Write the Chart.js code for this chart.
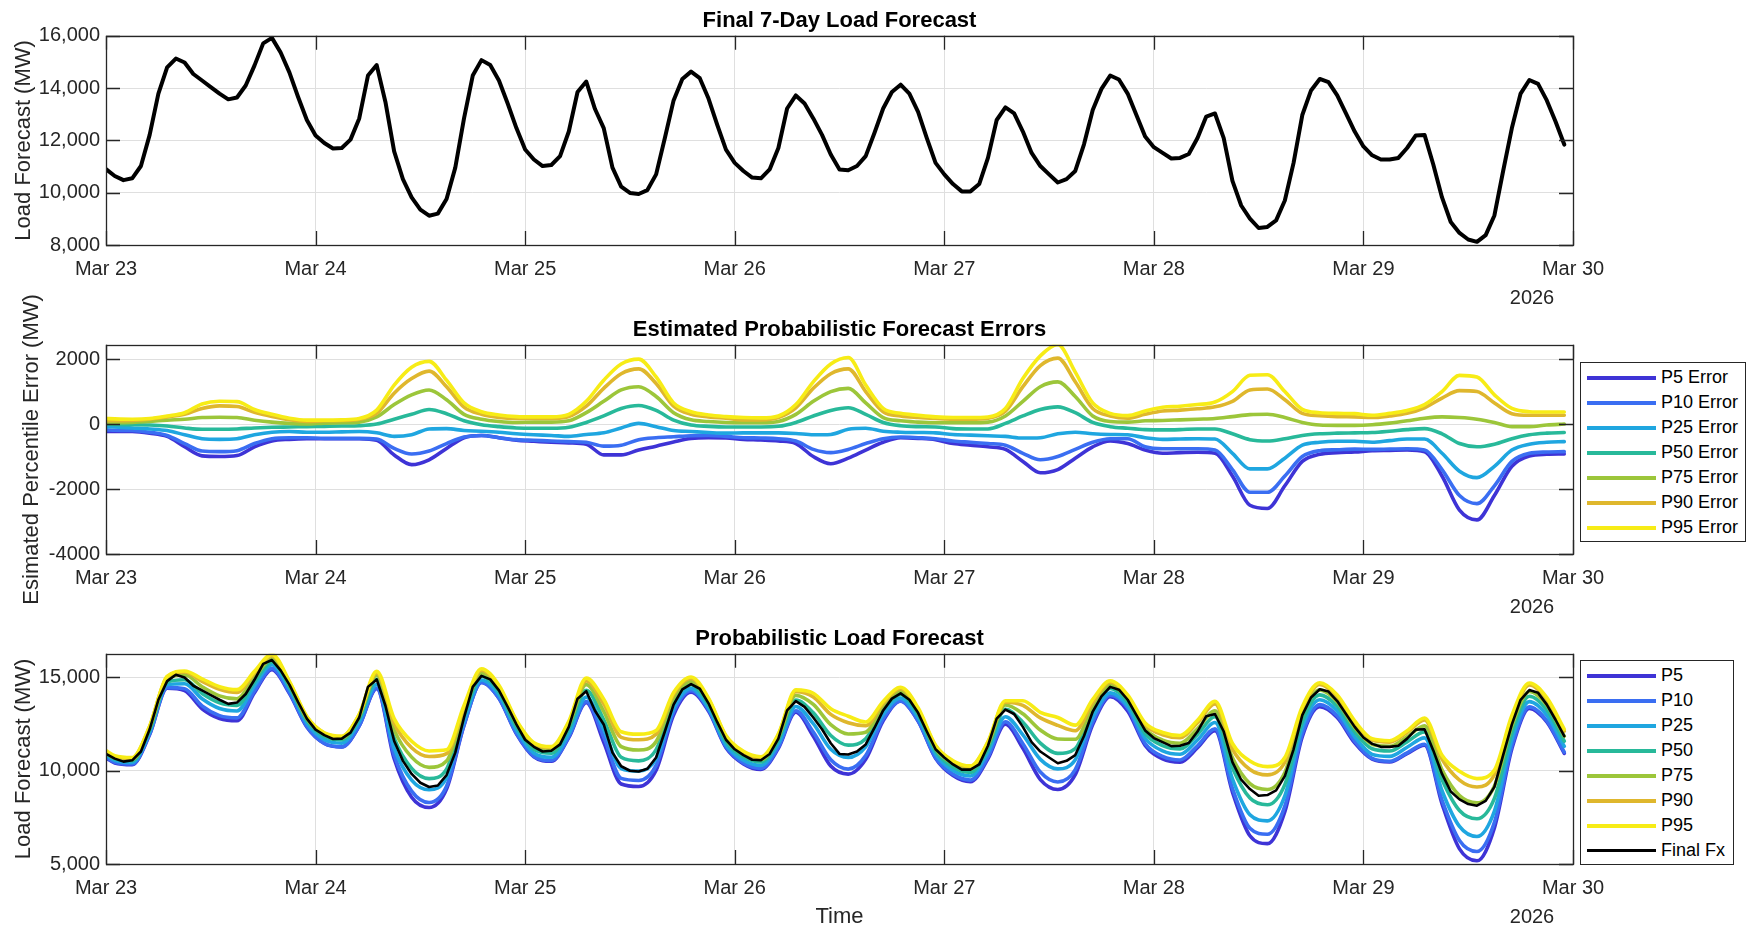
<!DOCTYPE html>
<html>
<head>
<meta charset="utf-8">
<title>Probabilistic Load Forecast</title>
<script src="https://cdn.jsdelivr.net/npm/chart.js@4.4.1/dist/chart.umd.min.js"></script>
<style>
  html, body { margin: 0; padding: 0; background: #fff; }
  #wrap { position: relative; width: 1755px; height: 926px; overflow: hidden; background: #fff; }
  #wrap canvas { position: absolute; left: 0; top: 0; }
  .legend { position: absolute; z-index: 5; background: #fff; border: 1px solid #262626; box-sizing: border-box;
            font-family: "Liberation Sans", Arial, Helvetica, sans-serif; font-size: 18px; color: #000; padding-top: 2px; }
  .legend .row { height: 25px; display: flex; align-items: center; white-space: nowrap; }
  .legend .swatch { display: inline-block; width: 69px; margin: 0 5px 0 6px; }
  #leg2 { left: 1580px; top: 362px; width: 166px; height: 180px; }
  #leg3 { left: 1580px; top: 660px; width: 154px; height: 205px; }
</style>
</head>
<body>
<div id="wrap">
  <canvas id="c1" width="1755" height="926"></canvas>
  <canvas id="c2" width="1755" height="926"></canvas>
  <canvas id="c3" width="1755" height="926"></canvas>
  <div class="legend" id="leg2"></div>
  <div class="legend" id="leg3"></div>
</div>
<script>
// x axis: hours since Mar 23 00:00
const dayTicks = [0, 24, 48, 72, 96, 120, 144, 168];
const dayLabels = ['Mar 23', 'Mar 24', 'Mar 25', 'Mar 26', 'Mar 27', 'Mar 28', 'Mar 29', 'Mar 30'];
const yearLabel = '2026';

// y ticks per panel
const loadTicks = [8000, 10000, 12000, 14000, 16000];
const errTicks = [-4000, -2000, 0, 2000];
const probTicks = [5000, 10000, 15000];

// final 7-day forecast, hourly (MW), hour 0 .. 167
const finalLoad = [
  10900, 10640, 10480, 10550, 11020, 12210, 13790, 14790, 15130, 14980, 14540, 14290, 14040, 13790, 13570, 13640, 14100, 14860, 15710, 15920, 15360, 14600, 13660, 12780,
  12190, 11900, 11690, 11710, 12030, 12840, 14480, 14880, 13470, 11580, 10520, 9820, 9350, 9120, 9200, 9760, 10960, 12840, 14480, 15070, 14880, 14290, 13410, 12470,
  11650, 11270, 11020, 11060, 11400, 12340, 13850, 14250, 13200, 12470, 10960, 10230, 9990, 9950, 10100, 10700, 12090, 13530, 14350, 14630, 14380, 13600, 12590, 11650,
  11140, 10830, 10580, 10550, 10890, 11710, 13220, 13720, 13410, 12840, 12210, 11460, 10890, 10860, 11020, 11400, 12280, 13220, 13850, 14130, 13790, 13090, 12090, 11140,
  10700, 10330, 10050, 10050, 10330, 11330, 12780, 13260, 13030, 12340, 11520, 11020, 10700, 10390, 10520, 10830, 11850, 13160, 13970, 14480, 14330, 13790, 12970, 12150,
  11740, 11520, 11310, 11330, 11480, 12090, 12910, 13030, 12090, 10450, 9510, 9010, 8650, 8690, 8940, 9700, 11140, 12970, 13910, 14350, 14230, 13720, 13030, 12340,
  11770, 11430, 11270, 11270, 11330, 11710, 12190, 12210, 11080, 9820, 8880, 8460, 8210, 8120, 8380, 9130, 10830, 12470, 13790, 14310, 14160, 13530, 12720, 11840
];

// percentile errors are read every 2 hours: hour 0, then 1, 3, 5 ... 167
const errHours = [0];
for (let h = 1; h < 168; h += 2) errHours.push(h);

const errP95 = [170,
  160, 150, 170, 250, 350, 620, 700, 690, 450, 300, 180, 120,
  120, 130, 170, 430, 1200, 1750, 1930, 1350, 650, 380, 280, 230,
  220, 220, 300, 700, 1350, 1850, 2000, 1450, 650, 380, 280, 230,
  200, 190, 250, 600, 1300, 1850, 2050, 1200, 480, 330, 270, 220,
  200, 200, 220, 480, 1400, 2100, 2450, 1600, 650, 330, 260, 400,
  520, 550, 600, 680, 1000, 1500, 1520, 1000, 450, 350, 330, 320,
  270, 330, 420, 600, 1000, 1500, 1450, 900, 480, 380, 370, 370];
const errP90 = [110,
  100, 110, 150, 220, 300, 480, 560, 540, 360, 230, 130, 80,
  100, 110, 150, 330, 950, 1400, 1630, 1150, 520, 300, 200, 170,
  170, 170, 230, 550, 1100, 1550, 1700, 1250, 550, 300, 220, 180,
  130, 130, 200, 500, 1100, 1550, 1700, 1000, 380, 250, 200, 170,
  150, 150, 180, 400, 1150, 1800, 2030, 1300, 480, 250, 180, 300,
  400, 430, 470, 530, 700, 1050, 1080, 750, 330, 260, 230, 220,
  200, 250, 330, 500, 800, 1030, 1000, 650, 320, 270, 270, 270];
const errP75 = [50,
  40, 50, 80, 120, 150, 200, 210, 200, 120, 60, 20, 0,
  30, 40, 60, 220, 600, 900, 1050, 750, 300, 150, 80, 50,
  60, 60, 100, 350, 700, 1050, 1150, 850, 350, 130, 80, 50,
  40, 40, 80, 300, 700, 1000, 1100, 650, 200, 100, 60, 40,
  40, 40, 60, 250, 700, 1150, 1300, 850, 250, 80, 60, 100,
  110, 130, 150, 170, 230, 290, 300, 200, 50, -30, -40, -40,
  -20, 30, 100, 180, 220, 200, 150, 50, -80, -80, -30, 0];
const errP50 = [0,
  -10, -20, -30, -60, -120, -160, -160, -150, -120, -100, -90, -80,
  -70, -60, -50, 0, 150, 300, 450, 320, 100, -20, -80, -120,
  -130, -130, -100, 50, 250, 480, 570, 420, 120, -30, -70, -90,
  -90, -90, -70, 50, 250, 420, 500, 300, 50, -50, -80, -90,
  -140, -150, -150, 20, 250, 450, 530, 350, 50, -80, -130, -170,
  -180, -170, -150, -150, -300, -480, -520, -450, -350, -300, -280, -270,
  -260, -220, -170, -140, -300, -600, -700, -620, -450, -330, -280, -260];
const errP25 = [-80,
  -90, -120, -150, -200, -330, -450, -470, -450, -330, -250, -230, -250,
  -250, -240, -230, -270, -380, -330, -150, -140, -200, -220, -250, -300,
  -330, -350, -380, -320, -270, -120, 20, -80, -200, -230, -260, -280,
  -270, -270, -270, -290, -330, -320, -160, -130, -220, -250, -260, -270,
  -320, -340, -360, -380, -430, -420, -300, -250, -300, -320, -330, -420,
  -470, -460, -450, -460, -900, -1380, -1380, -1050, -650, -560, -530, -530,
  -560, -510, -460, -460, -900, -1450, -1650, -1300, -800, -620, -560, -540];
const errP10 = [-180,
  -190, -200, -250, -350, -600, -830, -850, -820, -600, -450, -420, -420,
  -440, -440, -440, -460, -750, -920, -830, -600, -400, -350, -420, -480,
  -500, -520, -540, -560, -680, -650, -480, -420, -390, -360, -350, -380,
  -420, -430, -450, -520, -780, -880, -780, -600, -450, -400, -420, -450,
  -520, -560, -600, -650, -900, -1100, -1000, -780, -560, -450, -450, -700,
  -760, -760, -760, -800, -1400, -2100, -2100, -1600, -1000, -820, -790, -770,
  -780, -770, -760, -800, -1400, -2200, -2450, -1900, -1150, -900, -860, -850];
const errP5 = [-230,
  -230, -230, -280, -380, -700, -980, -1000, -970, -700, -520, -470, -450,
  -450, -450, -450, -500, -950, -1250, -1100, -750, -420, -350, -420, -500,
  -530, -560, -580, -620, -950, -950, -800, -680, -550, -440, -420, -430,
  -470, -490, -520, -600, -1000, -1220, -1050, -800, -560, -420, -440, -480,
  -600, -650, -700, -780, -1150, -1500, -1400, -1050, -700, -520, -600, -800,
  -900, -880, -870, -900, -1600, -2500, -2600, -1900, -1150, -930, -880, -860,
  -820, -810, -800, -850, -1600, -2650, -2950, -2200, -1300, -980, -930, -920];

const pctNames = ['P5', 'P10', 'P25', 'P50', 'P75', 'P90', 'P95'];
const pctErrors = [errP5, errP10, errP25, errP50, errP75, errP90, errP95];
const pctColors = ['#3e33d6', '#3a6ef2', '#1fa6e0', '#28b99a', '#9cc63a', '#dfb72d', '#f7ec16'];

const FONT = '"Liberation Sans", Arial, Helvetica, sans-serif';
Chart.defaults.font.family = FONT;
Chart.defaults.color = '#262626';

// frame, inward tick marks and the year label, like the original axes box
const axesBox = {
  id: 'axesBox',
  afterDraw(chart) {
    const { ctx, chartArea: a, scales: { x, y } } = chart;
    ctx.save();
    ctx.strokeStyle = '#262626';
    ctx.lineWidth = 1.3;
    ctx.beginPath();
    x.ticks.forEach(t => {
      const px = Math.round(x.getPixelForValue(t.value)) + 0.5;
      ctx.moveTo(px, a.bottom); ctx.lineTo(px, a.bottom - 14);
      ctx.moveTo(px, a.top); ctx.lineTo(px, a.top + 14);
    });
    y.ticks.forEach(t => {
      const py = Math.round(y.getPixelForValue(t.value)) + 0.5;
      ctx.moveTo(a.left, py); ctx.lineTo(a.left + 14, py);
      ctx.moveTo(a.right, py); ctx.lineTo(a.right - 14, py);
    });
    ctx.stroke();
    ctx.strokeRect(Math.round(a.left) + 0.5, Math.round(a.top) + 0.5, Math.round(a.width), Math.round(a.height));
    ctx.fillStyle = '#262626';
    ctx.font = '20px ' + FONT;
    ctx.textAlign = 'center';
    ctx.textBaseline = 'middle';
    ctx.fillText(yearLabel, x.right - 41, a.bottom + 53);
    ctx.restore();
  }
};

function panelOptions(p) {
  return {
    responsive: false,
    animation: false,
    events: [],
    layout: { padding: { left: 0, right: 182, top: p.top, bottom: p.bottom } },
    plugins: {
      legend: { display: false },
      tooltip: { enabled: false },
      title: {
        display: true, text: p.title, fullSize: false, color: '#000',
        font: { size: 22, weight: 'bold' }, padding: { top: 7.5, bottom: 1.9 }
      }
    },
    scales: {
      x: {
        type: 'linear', min: 0, max: 168,
        afterBuildTicks: s => { s.ticks = dayTicks.map(v => ({ value: v })); },
        afterFit: s => { s.height = p.xHeight; },
        ticks: {
          autoSkip: false, maxRotation: 0, padding: 12, color: '#262626', font: { size: 20 },
          callback: v => dayLabels[dayTicks.indexOf(v)]
        },
        grid: { color: '#dfdfdf', lineWidth: 1, drawTicks: false },
        border: { display: false },
        title: p.xTitle
          ? { display: true, text: p.xTitle, color: '#262626', font: { size: 22, lineHeight: 0.85 }, padding: { top: 0, bottom: 0 } }
          : { display: false }
      },
      y: {
        type: 'linear', min: p.yMin, max: p.yMax,
        afterBuildTicks: s => { s.ticks = p.yTicks.map(v => ({ value: v })); },
        afterFit: s => { s.width = 106; },
        ticks: { padding: 6, color: '#262626', font: { size: 20 }, callback: p.fmt },
        grid: { color: '#dfdfdf', lineWidth: 1, drawTicks: false },
        border: { display: false },
        title: { display: true, text: p.yTitle, color: '#262626', font: { size: 22 }, padding: { top: p.yTitlePad, bottom: 0 } }
      }
    }
  };
}

const withComma = v => v.toLocaleString('en-US');
const lineStyle = { pointRadius: 0, tension: 0, borderJoinStyle: 'round', borderCapStyle: 'round', fill: false };
const smoothStyle = { ...lineStyle, cubicInterpolationMode: 'monotone' };

// panel 1: final forecast
new Chart(document.getElementById('c1'), {
  type: 'line',
  data: {
    datasets: [{
      ...lineStyle, label: 'Final Fx', borderColor: '#000', borderWidth: 4,
      data: finalLoad.map((v, h) => ({ x: h, y: v }))
    }]
  },
  options: panelOptions({
    title: 'Final 7-Day Load Forecast', top: 0, bottom: 618, xHeight: 63,
    yMin: 8000, yMax: 16000, yTicks: loadTicks, fmt: withComma,
    yTitle: 'Load Forecast (MW)', yTitlePad: 10.8
  }),
  plugins: [axesBox]
});

// panel 2: percentile errors
new Chart(document.getElementById('c2'), {
  type: 'line',
  data: {
    datasets: pctErrors.map((err, k) => ({
      ...smoothStyle, label: pctNames[k] + ' Error', borderColor: pctColors[k], borderWidth: 3.6,
      order: pctErrors.length - k,
      data: errHours.map((h, i) => ({ x: h, y: err[i] }))
    }))
  },
  options: panelOptions({
    title: 'Estimated Probabilistic Forecast Errors', top: 309, bottom: 309, xHeight: 63,
    yMin: -4000, yMax: 2440, yTicks: errTicks, fmt: v => String(v),
    yTitle: 'Esimated Percentile Error (MW)', yTitlePad: 18.4
  }),
  plugins: [axesBox]
});

// panel 3: final forecast plus each percentile error
const pctDatasets = pctErrors.map((err, k) => ({
  ...smoothStyle, label: pctNames[k], borderColor: pctColors[k], borderWidth: 3.6,
  order: pctErrors.length + 1 - k,
  data: errHours.map((h, i) => ({ x: h, y: finalLoad[h] + err[i] }))
}));
pctDatasets.push({
  ...lineStyle, label: 'Final Fx', borderColor: '#000', borderWidth: 2.6, order: 0,
  data: finalLoad.map((v, h) => ({ x: h, y: v }))
});

new Chart(document.getElementById('c3'), {
  type: 'line',
  data: { datasets: pctDatasets },
  options: panelOptions({
    title: 'Probabilistic Load Forecast', top: 618, bottom: 0, xHeight: 62, xTitle: 'Time',
    yMin: 5000, yMax: 16250, yTicks: probTicks, fmt: withComma,
    yTitle: 'Load Forecast (MW)', yTitlePad: 10.8
  }),
  plugins: [axesBox]
});

// boxed legends at the right of panels 2 and 3
function buildLegend(id, datasets) {
  const box = document.getElementById(id);
  datasets.forEach(ds => {
    const row = document.createElement('div');
    row.className = 'row';
    const sw = document.createElement('span');
    sw.className = 'swatch';
    sw.style.borderTop = Math.round(ds.borderWidth + 0.4) + 'px solid ' + ds.borderColor;
    const txt = document.createElement('span');
    txt.textContent = ds.label;
    row.appendChild(sw);
    row.appendChild(txt);
    box.appendChild(row);
  });
}
buildLegend('leg2', pctNames.map((n, k) => ({ label: n + ' Error', borderColor: pctColors[k], borderWidth: 3.6 })));
buildLegend('leg3', pctDatasets);
</script>
</body>
</html>
